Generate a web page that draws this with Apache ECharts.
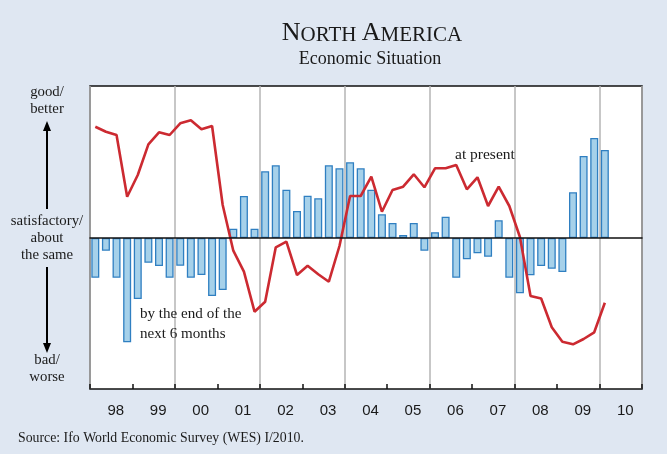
<!DOCTYPE html>
<html>
<head>
<meta charset="utf-8">
<script src="https://cdn.jsdelivr.net/npm/echarts@6/dist/echarts.min.js"></script>
<style>
html,body{margin:0;padding:0;background:#dfe7f2;}
#chart{width:667px;height:454px;}
</style>
</head>
<body>
<div id="chart"></div>
<script>
// Year tick labels
var yearLabels = ['98','99','00','01','02','03','04','05','06','07','08','09','10'];
// Quarterly categories 1998Q1 .. 2010Q4
var quarters = [];
for (var y = 1998; y <= 2010; y++) { for (var q = 1; q <= 4; q++) { quarters.push(y + 'Q' + q); } }

// Bars: expectations "by the end of the next 6 months" (1998Q1 .. 2010Q1)
var expectations = [
  -39.7, -12.7, -39.7, -104.3,
  -61, -24.7, -28, -39.7,
  -27.7, -39.7, -37, -58,
  -52, 9.3, 42, 9.3,
  66.7, 72.7, 48.3, 27,
  42.3, 39.7, 72.7, 69.7,
  75.7, 69.7, 48.3, 23.7,
  15, 3, 15, -12.7,
  5.7, 21.3, -39.7, -21.3,
  -15.3, -18.7, 17.7, -39.7,
  -55.3, -37.3, -28, -30.7,
  -34, 45.7, 82, 100,
  88
];

// Line: assessment "at present" (1998Q1 .. 2010Q1)
var present = [
  111.3, 106.3, 103, 41.3,
  63, 93.7, 105.7, 103,
  114.7, 117.7, 108.7, 112,
  33, -12.7, -33.7, -73.7,
  -63.7, -9.3, -3.7, -37,
  -27.7, -36.3, -43.7, -8,
  42, 42, 61.3, 26.3,
  48, 51.3, 63.7, 50.7,
  69.7, 69.7, 73, 48.7,
  60.7, 32, 51.3, 32,
  1, -58, -60.5, -89.3,
  -103.7, -106.3, -101, -94.3,
  -64.7
];

var serif = '"Liberation Serif","Times New Roman",serif';
var sans = '"Liberation Sans",Arial,sans-serif';
var ink = '#1a1a1a';

var chart = echarts.init(document.getElementById('chart'), null, {renderer: 'canvas'});
chart.setOption({
  backgroundColor: '#dfe7f2',
  animation: false,
  grid: {
    left: 90, right: 25, top: 86, bottom: 65,
    show: true, backgroundColor: '#ffffff', borderColor: '#111111', borderWidth: 1.5
  },
  xAxis: [
    {
      type: 'category', data: quarters, position: 'bottom', boundaryGap: true, z: 5,
      axisLine: {show: true, onZero: true, lineStyle: {color: '#111', width: 1.5}},
      axisTick: {show: false}, axisLabel: {show: false}, splitLine: {show: false}
    },
    {
      type: 'category', data: yearLabels, position: 'bottom', boundaryGap: true,
      axisLine: {show: false, onZero: false},
      axisTick: {show: true, inside: true, length: 5, lineStyle: {color: '#111', width: 1.5}},
      axisLabel: {show: true, color: ink, fontFamily: sans, fontSize: 15, margin: 14, padding: [0, 0, 0, 9]},
      splitLine: {show: false}
    },
    {
      type: 'value', min: 1998, max: 2011, interval: 2, position: 'bottom',
      axisLine: {show: false, onZero: false}, axisTick: {show: false}, axisLabel: {show: false},
      splitLine: {show: true, lineStyle: {color: '#b4b4b4', width: 1.5}}
    }
  ],
  yAxis: {
    type: 'value', min: -151, max: 152,
    axisLine: {show: false}, axisTick: {show: false}, axisLabel: {show: false}, splitLine: {show: false}
  },
  series: [
    {
      type: 'bar', xAxisIndex: 0, yAxisIndex: 0, data: expectations, barWidth: 8,
      itemStyle: {color: '#a6d1ea', borderColor: '#2f7fc1', borderWidth: 1.3}, z: 2
    },
    {
      type: 'line', xAxisIndex: 0, yAxisIndex: 0, data: present, symbol: 'none',
      lineStyle: {color: '#cc2a31', width: 2.6}, z: 4
    }
  ],
  graphic: [
    {type: 'text', x: 372, y: 33, style: {
      text: '{a|N}{b|ORTH }{a|A}{b|MERICA}', align: 'center', verticalAlign: 'middle',
      rich: {
        a: {fontSize: 26, fontFamily: serif, fill: ink, verticalAlign: 'bottom'},
        b: {fontSize: 21, fontFamily: serif, fill: ink, verticalAlign: 'bottom'}
      }
    }},
    {type: 'text', x: 370, y: 59, style: {text: 'Economic Situation', fontSize: 18, fontFamily: serif, fill: ink, align: 'center', verticalAlign: 'middle'}},
    {type: 'text', x: 47, y: 101, style: {text: 'good/\nbetter', fontSize: 14.8, lineHeight: 17, fontFamily: serif, fill: ink, align: 'center', verticalAlign: 'middle'}},
    {type: 'line', shape: {x1: 47, y1: 209, x2: 47, y2: 128}, style: {stroke: '#000', lineWidth: 2}},
    {type: 'polygon', shape: {points: [[43, 131], [51, 131], [47, 121]]}, style: {fill: '#000'}},
    {type: 'text', x: 47, y: 238, style: {text: 'satisfactory/\nabout\nthe same', fontSize: 14.8, lineHeight: 17, fontFamily: serif, fill: ink, align: 'center', verticalAlign: 'middle'}},
    {type: 'line', shape: {x1: 47, y1: 267, x2: 47, y2: 345}, style: {stroke: '#000', lineWidth: 2}},
    {type: 'polygon', shape: {points: [[43, 343], [51, 343], [47, 353]]}, style: {fill: '#000'}},
    {type: 'text', x: 47, y: 369, style: {text: 'bad/\nworse', fontSize: 14.8, lineHeight: 17, fontFamily: serif, fill: ink, align: 'center', verticalAlign: 'middle'}},
    {type: 'text', x: 455, y: 155, z: 10, style: {text: 'at present', fontSize: 15.5, fontFamily: serif, fill: ink, align: 'left', verticalAlign: 'middle'}},
    {type: 'text', x: 140, y: 324, z: 10, style: {text: 'by the end of the\nnext 6 months', fontSize: 15.1, lineHeight: 20, fontFamily: serif, fill: ink, align: 'left', verticalAlign: 'middle'}},
    {type: 'text', x: 18, y: 438, style: {text: 'Source: Ifo World Economic Survey (WES) I/2010.', fontSize: 13.8, fontFamily: serif, fill: ink, align: 'left', verticalAlign: 'middle'}}
  ]
});
</script>
</body>
</html>
